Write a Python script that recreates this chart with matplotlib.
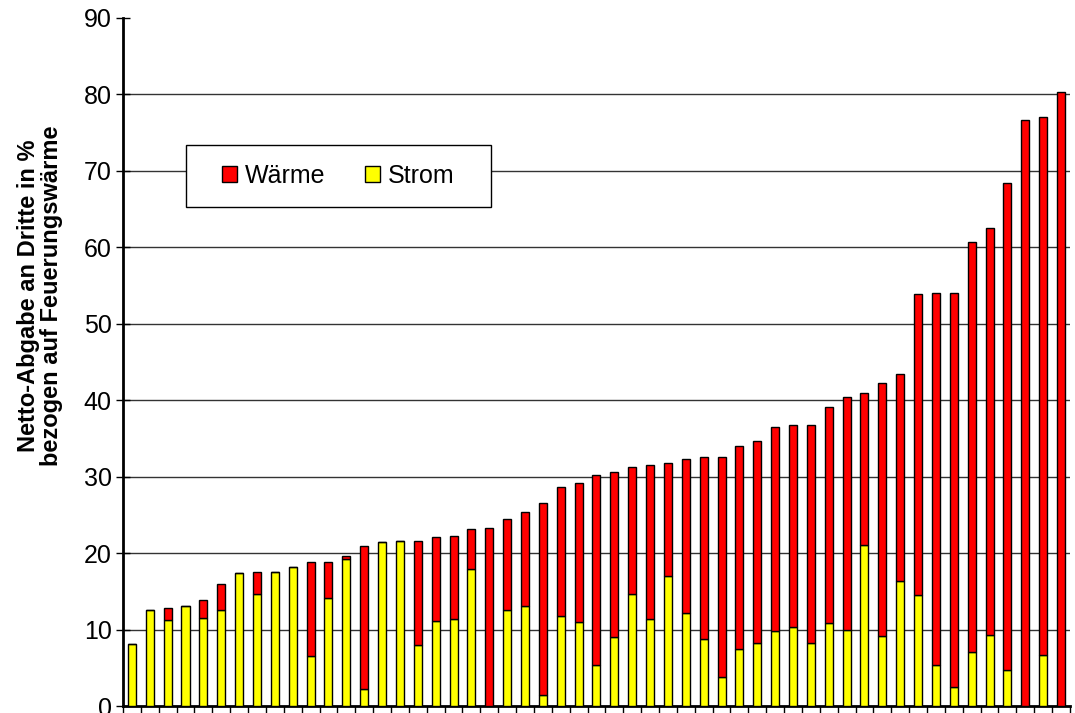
import matplotlib.pyplot as plt
from matplotlib.patches import Patch, Rectangle
import numpy as np

plt.rcParams['font.family'] = ['Liberation Sans', 'DejaVu Sans']

# Gesamtwert (Strom + Wärme) und Stromanteil je Anlage, sortiert
total = [8.1, 12.5, 12.8, 13.1, 13.9, 15.9, 17.4, 17.5, 17.5, 18.2,
         18.8, 18.8, 19.6, 20.9, 21.4, 21.6, 21.6, 22.1, 22.2, 23.2,
         23.3, 24.5, 25.4, 26.6, 28.7, 29.2, 30.2, 30.6, 31.3, 31.5,
         31.8, 32.3, 32.6, 32.6, 34.0, 34.7, 36.5, 36.7, 36.7, 39.1,
         40.4, 41.0, 42.3, 43.4, 53.9, 54.0, 54.0, 60.7, 62.5, 68.4,
         76.6, 77.0, 80.3]
strom = [8.1, 12.5, 11.3, 13.1, 11.5, 12.5, 17.4, 14.7, 17.5, 18.2,
         6.6, 14.1, 19.2, 2.2, 21.4, 21.6, 8.0, 11.1, 11.4, 17.9,
         0.0, 12.6, 13.1, 1.4, 11.8, 11.0, 5.4, 9.0, 14.7, 11.4,
         17.0, 12.2, 8.8, 3.8, 7.5, 8.3, 9.8, 10.4, 8.2, 10.9,
         10.0, 21.0, 9.1, 16.3, 14.5, 5.4, 2.5, 7.1, 9.3, 4.7,
         0.0, 6.7, 0.0]
waerme = [t - s for t, s in zip(total, strom)]

x = np.arange(len(total))

fig = plt.figure(figsize=(10.75, 7.13), dpi=100)
ax = fig.add_axes([0.1144, 0.0098, 0.8809, 0.965])

# Balken: Strom unten, Wärme oben
ax.bar(x, strom, width=0.45, color='#FFFF00', edgecolor='black', linewidth=1, zorder=3)
ax.bar(x, waerme, width=0.45, bottom=strom, color='#FF0000', edgecolor='black',
       linewidth=1, zorder=3)

# Gitterlinien 10..80
for g in range(10, 90, 10):
    ax.axhline(g, color='#333333', linewidth=1, zorder=1)

ax.set_xlim(-0.5, len(total) - 0.5)
ax.set_ylim(0, 90)
ax.set_yticks(range(0, 100, 10))
ax.set_xticks(np.arange(-0.5, len(total), 1.0))
ax.set_xticklabels([])

ax.tick_params(axis='y', direction='inout', length=10, width=1, labelsize=18, pad=3)
ax.tick_params(axis='x', direction='out', length=6, width=1)

for s in ['top', 'right']:
    ax.spines[s].set_visible(False)
ax.spines['left'].set_linewidth(2)
ax.spines['bottom'].set_linewidth(2)

fig.text(0.037, 0.585, 'Netto-Abgabe an Dritte in %\nbezogen auf Feuerungswärme',
         rotation=90, ha='center', va='center', fontsize=17, fontweight='bold',
         linespacing=1.0)

# Legendenrahmen separat, damit die Einträge mittig sitzen
box = Rectangle((0.0665, 0.7253), 0.322, 0.0901, transform=ax.transAxes,
                facecolor='white', edgecolor='black', linewidth=1, zorder=4)
ax.add_patch(box)

handles = [Patch(facecolor='#FF0000', edgecolor='black', label='Wärme'),
           Patch(facecolor='#FFFF00', edgecolor='black', label='Strom')]
leg = ax.legend(handles=handles, loc='center', ncol=2, fontsize=18,
                bbox_to_anchor=(0.2275, 0.7703), frameon=False,
                handlelength=0.6, handleheight=0.6, handletextpad=0.3,
                columnspacing=1.6, borderpad=0, borderaxespad=0)
leg.set_zorder(5)

fig.savefig('out.png', dpi=100)
